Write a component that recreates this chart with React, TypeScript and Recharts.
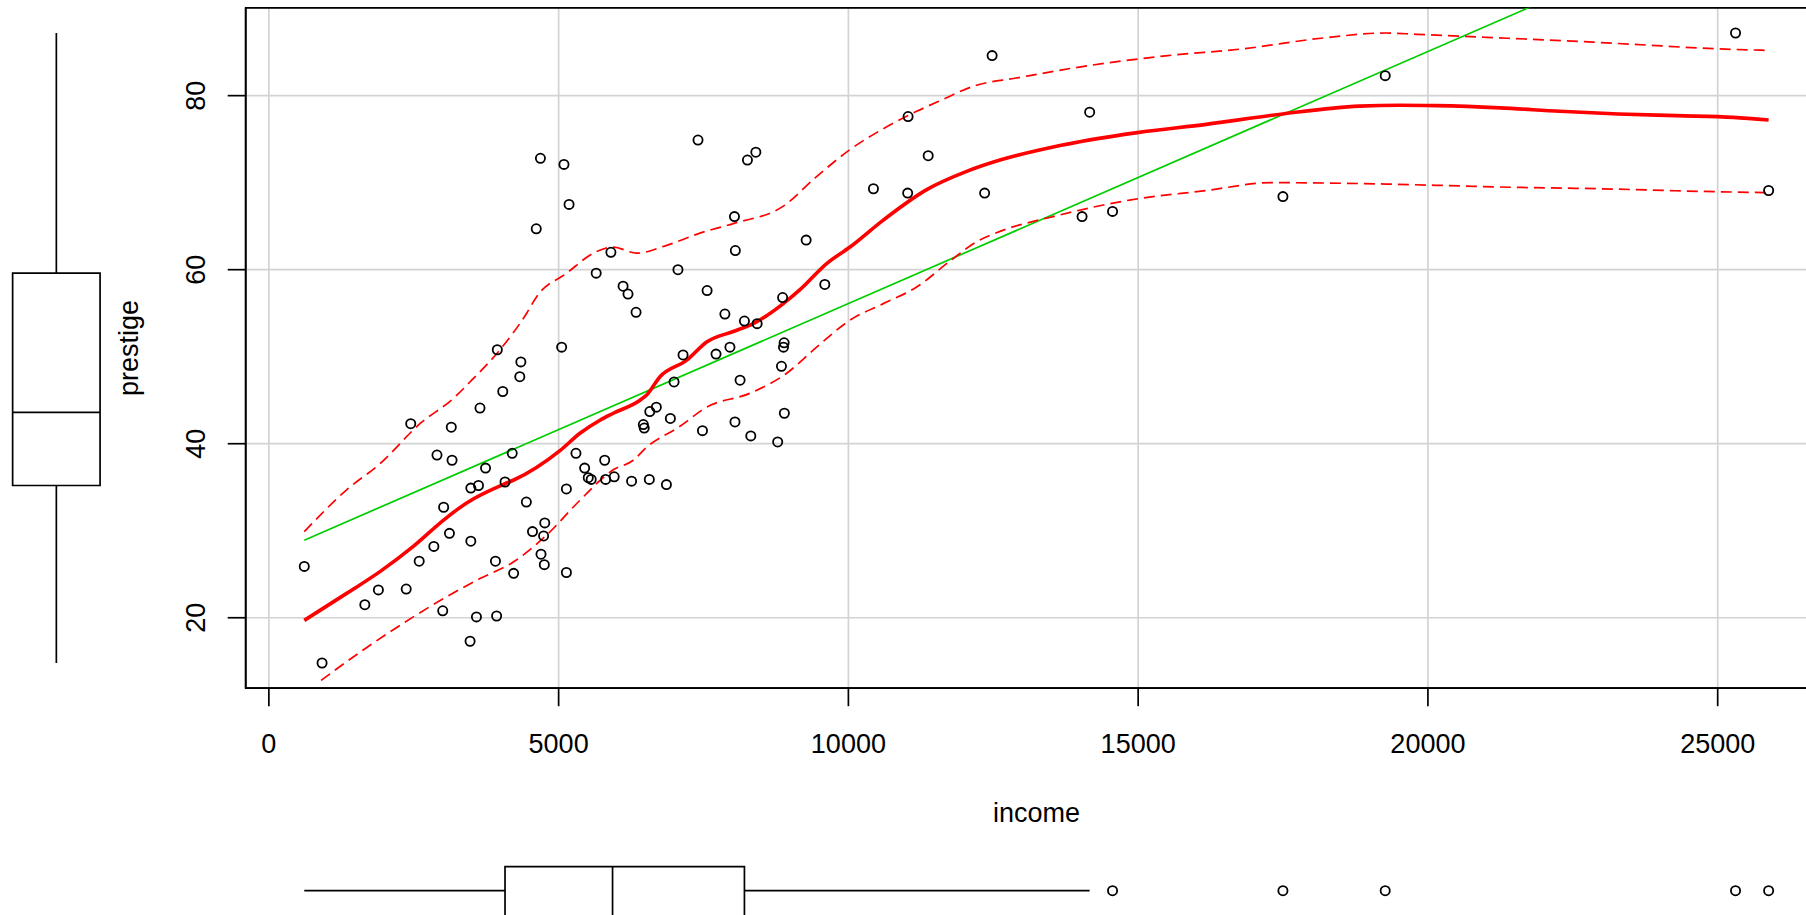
import React from "react";
import {
  ComposedChart,
  Scatter,
  Line,
  XAxis,
  YAxis,
  CartesianGrid,
  ReferenceArea,
  ReferenceLine,
} from "recharts";

// occupations: income and prestige
const income = [
  12351, 25879, 9271, 8865, 8403, 11030, 8258, 14163, 11377, 11023, 5902, 7059, 8425, 8049, 7405, 6336, 19263,
  6112, 9593, 4686, 12480, 5648, 8034, 25308, 14558, 17498, 4614, 3485, 5092, 10432, 5180, 6197, 7562, 8206,
  4036, 3148, 4348, 2448, 4330, 4761, 3016, 2901, 5511, 3739, 3161, 4741, 5052, 6259, 4075, 7482, 8780, 2594,
  918, 2370, 8131, 6992, 7956, 8895, 8891, 3116, 3930, 7869, 611, 3000, 3472, 3582, 3643, 1656, 6860, 4199,
  5134, 5134, 1890, 4443, 3485, 8043, 6686, 6565, 6477, 5811, 6573, 3942, 5449, 2847, 5795, 7716, 4696, 8316,
  7147, 8880, 5299, 5959, 4549, 6928, 3910, 14032, 8845, 5562, 4224, 4753, 6462, 3617,
];
const prestige = [
  68.8, 69.1, 63.4, 56.8, 73.5, 77.6, 72.6, 78.1, 73.1, 68.8, 62.0, 60.0, 53.8, 62.2, 74.9, 55.1, 82.3,
  58.1, 58.3, 72.8, 84.6, 59.6, 66.1, 87.2, 66.7, 68.4, 64.7, 34.9, 72.1, 69.3, 67.5, 57.2, 57.6, 54.1,
  46.0, 41.9, 49.4, 42.3, 47.7, 30.9, 32.7, 38.7, 36.1, 37.2, 38.1, 29.4, 51.1, 35.7, 35.6, 41.5, 40.2, 26.5,
  14.8, 23.3, 47.3, 47.1, 51.1, 43.5, 51.6, 29.7, 20.2, 54.9, 25.9, 20.8, 17.3, 20.1, 44.1, 21.5, 35.3, 38.9,
  25.2, 34.8, 23.2, 33.3, 28.8, 42.5, 44.2, 35.9, 41.8, 35.9, 43.7, 50.8, 37.2, 28.2, 38.1, 50.3, 27.3, 40.9,
  50.2, 51.1, 38.9, 36.2, 29.9, 42.9, 26.5, 66.1, 48.9, 35.9, 25.1, 26.1, 42.2, 35.2,
];

// smoother
const smoothX = [
  611, 1342, 1917, 2492, 3010, 3413, 4074, 4218, 5023, 5368, 5713, 5943, 6404, 6519, 6749, 7210, 7555, 8014,
  8359, 8877, 9165, 9625, 10028, 10602, 11351, 12041, 12616, 13531, 14985, 16174, 17494, 18815, 19518, 20136,
  21244, 22279, 23285, 24293, 25270, 25879,
];
const smoothY = [
  19.7, 22.8, 25.3, 28.2, 31.2, 33.2, 35.4, 35.8, 39.2, 41.2, 42.7, 43.5, 45.0, 45.6, 47.7, 49.6, 51.7, 52.9,
  53.8, 56.1, 57.7, 60.7, 62.6, 65.7, 69.2, 71.3, 72.6, 74.1, 75.75, 76.7, 77.9, 78.8, 78.9, 78.85,
  78.6, 78.2, 77.9, 77.7, 77.5, 77.2,
];
const upperX = [
  611, 1342, 1917, 2607, 3182, 3500, 3988, 4449, 4621, 5139, 5657, 5943, 6347, 6865, 7439, 8014, 8877, 9452,
  10028, 10602, 11178, 11575, 12210, 12872, 14193, 15513, 16833, 18155, 19277, 19805, 21014, 22395, 23545,
  24926, 25879,
];
const upperY = [
  29.9, 34.7, 37.7, 42.3, 45.2, 47.3, 50.8, 55.0, 56.9, 59.6, 62.1, 62.6, 61.9, 62.8, 64.2, 65.3, 67.3, 70.7,
  73.8, 76.2, 78.2, 79.4, 81.2, 82.0, 83.5, 84.6, 85.4, 86.6, 87.2, 87.05, 86.7, 86.3, 85.9,
  85.4, 85.2,
];
const lowerX = [
  900, 1629, 2492, 3010, 3643, 4218, 4793, 5368, 5943, 6288, 6519, 7094, 7555, 8302, 8935, 9452, 10028, 10602,
  11178, 11753, 12210, 12616, 13531, 14852, 16174, 17296, 18815, 20136, 21244, 22970, 24695, 25879,
];
const lowerY = [
  12.8, 16.3, 20.1, 22.2, 24.5, 26.4, 29.5, 33.5, 37.0, 38.1, 39.6, 42.0, 44.2, 45.8, 48.1, 51.1, 54.2, 56.1,
  58.0, 61.0, 63.2, 64.4, 66.1, 68.0, 69.1, 70.0, 69.9, 69.7, 69.5, 69.3, 69.0, 68.85,
];

const xTicks = [0, 5000, 10000, 15000, 20000, 25000];
const yTicks = [20, 40, 60, 80];

const font = { fontFamily: '"Liberation Sans", Arial, sans-serif', fontSize: 27, fill: "#000" };

// layout
const W = 1830;
const H = 915;
const PLOT_LEFT = 245.7;
const PLOT_RIGHT = 1827.2;
const TOP = 7.8;
const BOTTOM = 688.2;

function padRange(v: number[]): [number, number] {
  const lo = Math.min(...v);
  const hi = Math.max(...v);
  const p = (hi - lo) * 0.04;
  return [lo - p, hi + p];
}

function fivenum(v: number[]) {
  const s = [...v].sort((a, b) => a - b);
  const n = s.length;
  const n4 = Math.floor((n + 3) / 2) / 2;
  const d = [1, n4, (n + 1) / 2, n + 1 - n4, n];
  return d.map((i) => 0.5 * (s[Math.floor(i) - 1] + s[Math.ceil(i) - 1]));
}

function boxStats(v: number[]) {
  const [, q1, med, q3] = fivenum(v);
  const iqr = q3 - q1;
  const inside = v.filter((x) => x >= q1 - 1.5 * iqr && x <= q3 + 1.5 * iqr);
  return {
    q1,
    med,
    q3,
    lo: Math.min(...inside),
    hi: Math.max(...inside),
    out: v.filter((x) => x < q1 - 1.5 * iqr || x > q3 + 1.5 * iqr),
  };
}

const xDomain = padRange(income);
const yDomain = padRange(prestige);

const points = income.map((x, i) => ({ x, y: prestige[i] }));

// least squares line
const mx = income.reduce((a, b) => a + b, 0) / income.length;
const my = prestige.reduce((a, b) => a + b, 0) / prestige.length;
let sxy = 0;
let sxx = 0;
income.forEach((x, i) => {
  sxy += (x - mx) * (prestige[i] - my);
  sxx += (x - mx) * (x - mx);
});
const slope = sxy / sxx;
const icpt = my - slope * mx;
const regLine = [Math.min(...income), Math.max(...income)].map((x) => ({ x, y: icpt + slope * x }));

const smooth = smoothX.map((x, i) => ({ x, y: smoothY[i] }));
const upper = upperX.map((x, i) => ({ x, y: upperY[i] }));
const lower = lowerX.map((x, i) => ({ x, y: lowerY[i] }));

const incBox = boxStats(income);
const presBox = boxStats(prestige);
const incOut = incBox.out.map((x) => ({ x, y: 1 }));
// median point of the prestige box, also carries any outliers
const presPts = [{ x: 1, y: presBox.med, hidden: true }, ...presBox.out.map((y) => ({ x: 1, y, hidden: false }))];

const ring = (p: any) =>
  p.payload && p.payload.hidden ? (
    <g />
  ) : (
    <circle cx={p.cx} cy={p.cy} r={4.6} fill="none" stroke="#000" strokeWidth={1.8} />
  );

const XTick = (p: any) => (
  <text x={p.x} y={p.y + 46.5} textAnchor="middle" style={font}>
    {p.payload.value}
  </text>
);

const YTick = (p: any) => (
  <text x={p.x - 23} y={p.y} transform={`rotate(-90 ${p.x - 23} ${p.y})`} textAnchor="middle" style={font}>
    {p.payload.value}
  </text>
);

const xTitle = () => (
  <text x={(PLOT_LEFT + PLOT_RIGHT) / 2} y={822} textAnchor="middle" style={font}>
    income
  </text>
);

const yTitle = () => (
  <text
    x={137.5}
    y={(TOP + BOTTOM) / 2}
    transform={`rotate(-90 137.5 ${(TOP + BOTTOM) / 2})`}
    textAnchor="middle"
    style={font}
  >
    prestige
  </text>
);

const line = { stroke: "#000", strokeWidth: 1.7 };

export default function App() {
  return (
    <div style={{ position: "absolute", left: 0, top: 0, width: 1806, height: H, overflow: "hidden", background: "#fff" }}>
      {/* main scatter */}
      <div style={{ position: "absolute", left: 0, top: 0 }}>
        <ComposedChart width={W} height={H} margin={{ top: TOP, right: W - PLOT_RIGHT, bottom: 0, left: 0 }}>
          <CartesianGrid stroke="#d3d3d3" strokeWidth={1.7} />
          <XAxis
            type="number"
            dataKey="x"
            domain={xDomain}
            allowDataOverflow
            ticks={xTicks}
            interval={0}
            height={H - BOTTOM}
            tickSize={18}
            tickMargin={0}
            axisLine={line}
            tickLine={line}
            tick={XTick}
            label={xTitle}
          />
          <YAxis
            type="number"
            dataKey="y"
            domain={yDomain}
            allowDataOverflow
            ticks={yTicks}
            interval={0}
            width={PLOT_LEFT}
            tickSize={18}
            tickMargin={0}
            axisLine={line}
            tickLine={line}
            tick={YTick}
            label={yTitle}
          />
          <Scatter data={points} shape={ring} isAnimationActive={false} />
          <Line data={regLine} dataKey="y" stroke="#00cd00" strokeWidth={1.7} dot={false} isAnimationActive={false} />
          <Line data={smooth} dataKey="y" type="monotone" stroke="#ff0000" strokeWidth={3.6} dot={false} isAnimationActive={false} />
          <Line data={upper} dataKey="y" type="monotone" stroke="#ff0000" strokeWidth={1.7} strokeDasharray="11 6" dot={false} isAnimationActive={false} />
          <Line data={lower} dataKey="y" type="monotone" stroke="#ff0000" strokeWidth={1.7} strokeDasharray="11 6" dot={false} isAnimationActive={false} />
          <ReferenceArea
            x1={xDomain[0]}
            x2={xDomain[1]}
            y1={yDomain[0]}
            y2={yDomain[1]}
            fill="none"
            stroke="#000"
            strokeWidth={1.7}
            ifOverflow="visible"
          />
        </ComposedChart>
      </div>

      {/* prestige boxplot, left */}
      <div style={{ position: "absolute", left: 0, top: 0 }}>
        <ComposedChart width={111} height={H} margin={{ top: TOP, right: 0, bottom: H - BOTTOM, left: 1.7 }}>
          <XAxis type="number" dataKey="x" domain={[0.5, 1.5]} allowDataOverflow hide />
          <YAxis type="number" dataKey="y" domain={yDomain} allowDataOverflow hide />
          <Scatter data={presPts} shape={ring} isAnimationActive={false} />
          <ReferenceArea x1={0.6} x2={1.4} y1={presBox.q1} y2={presBox.q3} fill="none" stroke="#000" strokeWidth={1.7} ifOverflow="visible" />
          <ReferenceLine segment={[{ x: 0.6, y: presBox.med }, { x: 1.4, y: presBox.med }]} {...line} ifOverflow="visible" />
          <ReferenceLine segment={[{ x: 1, y: presBox.lo }, { x: 1, y: presBox.q1 }]} {...line} ifOverflow="visible" />
          <ReferenceLine segment={[{ x: 1, y: presBox.q3 }, { x: 1, y: presBox.hi }]} {...line} ifOverflow="visible" />
        </ComposedChart>
      </div>

      {/* income boxplot, bottom */}
      <div style={{ position: "absolute", left: 0, top: 0 }}>
        <ComposedChart width={W} height={925} margin={{ top: 860.7, right: W - PLOT_RIGHT, bottom: 4.3, left: PLOT_LEFT }}>
          <XAxis type="number" dataKey="x" domain={xDomain} allowDataOverflow hide />
          <YAxis type="number" dataKey="y" domain={[0.5, 1.5]} allowDataOverflow hide />
          <ReferenceArea x1={incBox.q1} x2={incBox.q3} y1={0.56} y2={1.4} fill="none" stroke="#000" strokeWidth={1.7} ifOverflow="visible" />
          <ReferenceLine segment={[{ x: incBox.med, y: 0.56 }, { x: incBox.med, y: 1.4 }]} {...line} ifOverflow="visible" />
          <ReferenceLine segment={[{ x: incBox.lo, y: 1 }, { x: incBox.q1, y: 1 }]} {...line} ifOverflow="visible" />
          <ReferenceLine segment={[{ x: incBox.q3, y: 1 }, { x: incBox.hi, y: 1 }]} {...line} ifOverflow="visible" />
          <Scatter data={incOut} shape={ring} isAnimationActive={false} />
        </ComposedChart>
      </div>
    </div>
  );
}
